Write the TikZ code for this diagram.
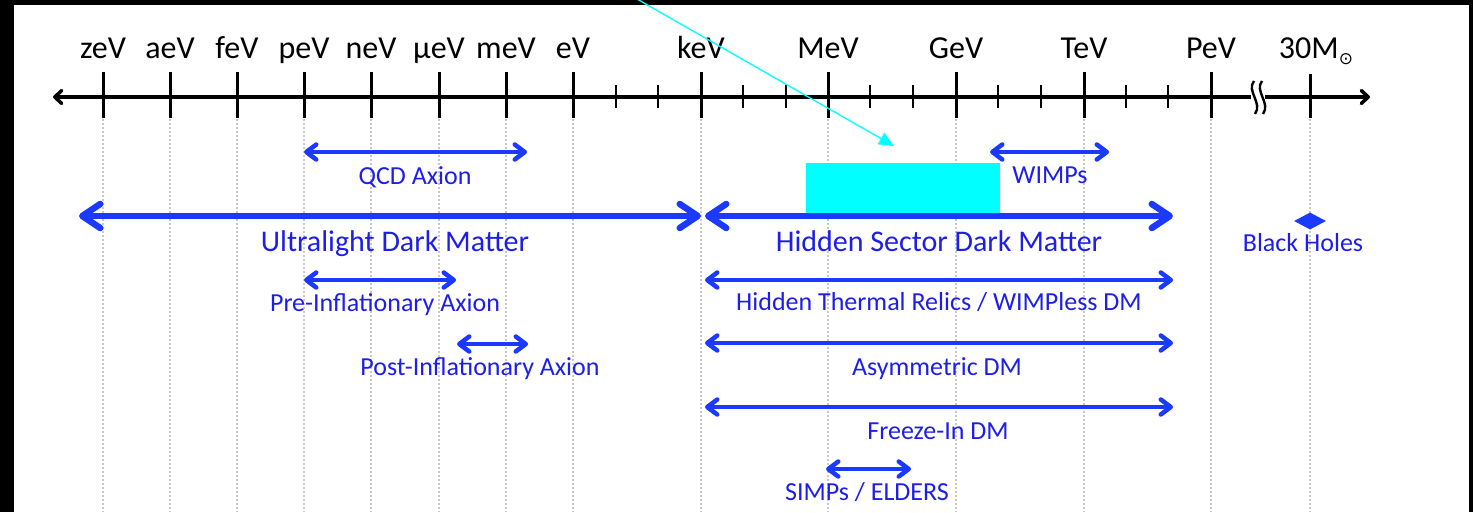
\documentclass[tikz,border=0pt]{standalone}
\usepackage{fontspec}
\setmainfont{Carlito}
\newfontfamily\symfnt{DejaVu Sans}
\usetikzlibrary{arrows.meta,shapes.geometric}
\definecolor{rangeblue}{RGB}{28,58,255}
\definecolor{txtblue}{RGB}{30,30,235}
\definecolor{gridgray}{RGB}{200,200,200}
\definecolor{annocyan}{RGB}{0,255,255}
\begin{document}
\begin{tikzpicture}[x=1pt,y=-1pt,
  axislbl/.style={font=\fontsize{32}{32}\selectfont, anchor=base, inner sep=0pt, text=black},
  rangelbl/.style={font=\fontsize{26}{26}\selectfont, anchor=base, inner sep=0pt, text=txtblue},
  biglbl/.style={font=\fontsize{30}{30}\selectfont, anchor=base, inner sep=0pt, text=txtblue},
  rangebar/.style={draw=rangeblue, line width=4.5pt,
    {Straight Barb[round,length=10pt,width=15pt]}-{Straight Barb[round,length=10pt,width=15pt]}},
  bigbar/.style={draw=rangeblue, line width=6.5pt,
    {Straight Barb[round,length=18pt,width=24pt]}-{Straight Barb[round,length=18pt,width=24pt]}},
  majortick/.style={draw=black, line width=3pt},
  minortick/.style={draw=black, line width=2.6pt},
  gridline/.style={draw=gridgray, line width=1.2pt, dash pattern=on 1.5pt off 2.5pt},
]
\useasboundingbox (0,0) rectangle (1473,512);
\fill[white] (0,0) rectangle (1473,512);

% grid lines
\foreach \x in {103,170,237,304,371,439,506,573,701,828,956,1084,1211,1310}
  \draw[gridline] (\x,119) -- (\x,512);

% axis
\coordinate (axL) at (53,97);
\coordinate (axR) at (1370,97);
\draw[black, line width=3.5pt,
  {Straight Barb[round,length=7pt,width=13pt]}-{Straight Barb[round,length=7pt,width=13pt]}] (axL) -- (axR);

% major ticks and labels
\foreach \x/\n/\t in {103/zev/zeV,170/aev/aeV,237/fev/feV,304/pev/peV,371/nev/neV,439/uev/µeV,506/mev/meV,573/ev/eV,701/kev/keV,828/Mev/MeV,956/gev/GeV,1084/tev/TeV,1211/Pev/PeV}{
  \draw[majortick] (\x,72) -- (\x,118);
  \node[axislbl] (lbl\n) at (\x,58) {\t};
}
\draw[majortick] (1310,74) -- (1310,118);
\node[axislbl] (lblsun) at (1316,58) {30M\raisebox{-6pt}{\symfnt\fontsize{17}{17}\selectfont ⊙}};

% minor ticks
\foreach \x in {616,658,743,786,870,913,998,1041,1126,1168}
  \draw[minortick] (\x,85) -- (\x,108);

% axis break
\fill[white] (1251,86) rectangle (1265,108);
\foreach \dx in {0,8}
  \draw[black, line width=2.4pt] (1254+\dx,81) .. controls (1246+\dx,91) and (1263+\dx,103) .. (1255+\dx,114);

% ranges
\coordinate (qcdL) at (304,152);  \coordinate (qcdR) at (527,152);
\draw[rangebar] (qcdL) -- (qcdR);
\node[rangelbl] (qcd) at (415,184) {QCD Axion};

\coordinate (wimpL) at (990,152);  \coordinate (wimpR) at (1109,152);
\draw[rangebar] (wimpL) -- (wimpR);
\node[rangelbl] (wimp) at (1050,183) {WIMPs};

\coordinate (ulL) at (79,216);  \coordinate (ulR) at (701,216);
\draw[bigbar] (ulL) -- (ulR);
\node[biglbl] (ul) at (395,251) {Ultralight Dark Matter};

\coordinate (hsL) at (705,216);  \coordinate (hsR) at (1173,216);
\draw[bigbar] (hsL) -- (hsR);
\node[biglbl] (hs) at (939,251) {Hidden Sector Dark Matter};

\node[diamond, fill=rangeblue, minimum width=32pt, minimum height=17pt, inner sep=0pt] (bhmark) at (1310,221) {};
\node[rangelbl] (bh) at (1303,251) {Black Holes};

\coordinate (preL) at (304,280);  \coordinate (preR) at (456,280);
\draw[rangebar] (preL) -- (preR);
\node[rangelbl] (pre) at (385,311) {Pre-Inflationary Axion};

\coordinate (htL) at (705,280);  \coordinate (htR) at (1173,280);
\draw[rangebar] (htL) -- (htR);
\node[rangelbl] (ht) at (939,310) {Hidden Thermal Relics / WIMPless DM};

\coordinate (postL) at (457,344);  \coordinate (postR) at (528,344);
\draw[rangebar] (postL) -- (postR);
\node[rangelbl] (post) at (480,375) {Post-Inflationary Axion};

\coordinate (asL) at (705,343);  \coordinate (asR) at (1173,343);
\draw[rangebar] (asL) -- (asR);
\node[rangelbl] (as) at (937,375) {Asymmetric DM};

\coordinate (fiL) at (705,407);  \coordinate (fiR) at (1173,407);
\draw[rangebar] (fiL) -- (fiR);
\node[rangelbl] (fi) at (938,439) {Freeze-In DM};

\coordinate (siL) at (826,469);  \coordinate (siR) at (911,469);
\draw[rangebar] (siL) -- (siR);
\node[rangelbl] (si) at (867,500) {SIMPs / ELDERS};

% black frame
\fill[black] (0,0) rectangle (14,512);
\fill[black] (0,0) rectangle (1473,5);
\fill[black] (1469,0) rectangle (1473,512);

% cyan annotations
\node[fill=annocyan, minimum width=194pt, minimum height=50pt, inner sep=0pt, anchor=center] (cyanbox) at (903,188) {};
\coordinate (cyanstart) at (637,-1);
\coordinate (cyantip) at (894,146);
\draw[annocyan, line width=1.3pt, -{Triangle[length=15pt,width=13pt]}] (cyanstart) -- (cyantip);
\end{tikzpicture}
\end{document}
